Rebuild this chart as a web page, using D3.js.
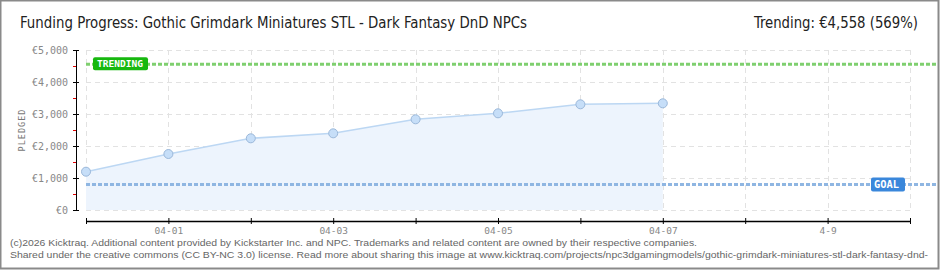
<!DOCTYPE html>
<head>
    <script src="https://d3js.org/d3.v7.js"></script>
    <style>
        body{ margin: 0; background: #fff; }
        svg{ display: block; }
        .tick text{ fill: #888; font-family: 'DejaVu Sans Mono', monospace; }
    </style>
</head>
<html>
    <body>
        <div class="graph"></div>
        <script>
            // values
            const dates = ['2026-03-31','2026-04-01','2026-04-02','2026-04-03','2026-04-04','2026-04-05','2026-04-06','2026-04-07']
            const pledged = [1197, 1750, 2240, 2396, 2834, 3021, 3303, 3334]
            const axisDays = ['2026-03-31','2026-04-01','2026-04-02','2026-04-03','2026-04-04','2026-04-05','2026-04-06','2026-04-07','2026-04-08','2026-04-09','2026-04-10']
            const axisLabels = ['', '04-01', '', '04-03', '', '04-05', '', '04-07', '', '4-9', '']
            const yTicks = [0, 1000, 2000, 3000, 4000, 5000]
            const yMinor = [500, 1500, 2500, 3500, 4500]
            const goal = 800
            const trending = 4558

            const w = 940
            const h = 270
            const parse = d3.timeParse('%Y-%m-%d')
            const data = dates.map((d, i) => ({date: parse(d), value: pledged[i]}))
            const days = axisDays.map(parse)

            const xScale = d3.scaleTime()
                .domain([days[0], days[days.length - 1]])
                .range([86, 910])
            const yScale = d3.scaleLinear()
                .domain([0, 5000])
                .range([210, 50])

            const svg = d3.select('.graph')
                .append('svg')
                .attr('width', w)
                .attr('height', h)

            // frame
            svg.append('rect')
                .attr('x', 0.5).attr('y', 0.5)
                .attr('width', w - 2).attr('height', h - 2)
                .attr('fill', '#fff')
                .attr('stroke', '#8a8a8a')
                .attr('stroke-width', 2)

            // title
            svg.append('text')
                .attr('x', 20).attr('y', 28)
                .attr('font-family', 'DejaVu Sans Condensed')
                .attr('font-size', 15)
                .attr('fill', '#222')
                .attr('textLength', 507)
                .attr('lengthAdjust', 'spacingAndGlyphs')
                .text('Funding Progress: Gothic Grimdark Miniatures STL - Dark Fantasy DnD NPCs')

            svg.append('text')
                .attr('x', 918).attr('y', 28)
                .attr('text-anchor', 'end')
                .attr('font-family', 'DejaVu Sans Condensed')
                .attr('font-size', 15)
                .attr('fill', '#222')
                .attr('textLength', 164)
                .attr('lengthAdjust', 'spacingAndGlyphs')
                .text('Trending:  €4,558 (569%)')

            // grid
            svg.append('g')
                .selectAll('line')
                .data(yTicks)
                .enter()
                .append('line')
                .attr('x1', 86).attr('x2', 910)
                .attr('y1', d => yScale(d) + 0.5).attr('y2', d => yScale(d) + 0.5)
                .attr('stroke', '#e2e2e2')
                .attr('stroke-dasharray', '5,4')

            svg.append('g')
                .selectAll('line')
                .data(days)
                .enter()
                .append('line')
                .attr('x1', d => Math.round(xScale(d)) + 0.5).attr('x2', d => Math.round(xScale(d)) + 0.5)
                .attr('y1', 50).attr('y2', 210)
                .attr('stroke', '#e2e2e2')
                .attr('stroke-dasharray', '5,4')

            // area + line
            const area = d3.area()
                .x(d => xScale(d.date))
                .y0(yScale(0))
                .y1(d => yScale(d.value))
            svg.append('path')
                .datum(data)
                .attr('d', area)
                .attr('fill', '#edf4fd')

            const line = d3.line()
                .x(d => xScale(d.date))
                .y(d => yScale(d.value))
            svg.append('path')
                .datum(data)
                .attr('d', line)
                .attr('fill', 'none')
                .attr('stroke', '#bcd7f3')
                .attr('stroke-width', 1.5)

            // goal & trending lines
            svg.append('line')
                .attr('x1', 86).attr('x2', 938)
                .attr('y1', yScale(goal)).attr('y2', yScale(goal))
                .attr('stroke', '#8fb6e2')
                .attr('stroke-width', 3)
                .attr('stroke-dasharray', '4,2')

            svg.append('line')
                .attr('x1', 86).attr('x2', 938)
                .attr('y1', yScale(trending)).attr('y2', yScale(trending))
                .attr('stroke', '#7fcf6f')
                .attr('stroke-width', 3)
                .attr('stroke-dasharray', '4,2')

            svg.selectAll('circle')
                .data(data)
                .enter()
                .append('circle')
                .attr('cx', d => xScale(d.date))
                .attr('cy', d => yScale(d.value))
                .attr('r', 4.5)
                .attr('fill', '#c6def8')
                .attr('stroke', '#9bb8da')
                .attr('stroke-width', 1)

            // labels on the trending & goal lines
            const tagT = svg.append('g').attr('transform', 'translate(93,' + (yScale(trending) - 7) + ')')
            tagT.append('rect')
                .attr('width', 55).attr('height', 13).attr('rx', 2)
                .attr('fill', '#17b80f')
            tagT.append('text')
                .attr('x', 4).attr('y', 10)
                .attr('font-family', 'DejaVu Sans Mono')
                .attr('font-weight', 'bold')
                .attr('font-size', 9.5)
                .attr('fill', '#fff')
                .attr('textLength', 46)
                .attr('lengthAdjust', 'spacingAndGlyphs')
                .text('TRENDING')

            const tagG = svg.append('g').attr('transform', 'translate(871,' + (yScale(goal) - 7) + ')')
            tagG.append('rect')
                .attr('width', 34).attr('height', 14).attr('rx', 2)
                .attr('fill', '#3a87db')
            tagG.append('text')
                .attr('x', 3).attr('y', 10.5)
                .attr('font-family', 'DejaVu Sans Mono')
                .attr('font-weight', 'bold')
                .attr('font-size', 10)
                .attr('fill', '#fff')
                .attr('textLength', 25)
                .attr('lengthAdjust', 'spacingAndGlyphs')
                .text('GOAL')

            // y axis
            const yAxis = d3.axisLeft(yScale)
                .tickValues(yTicks)
                .tickSize(6)
                .tickPadding(4)
                .tickFormat(d => '€' + d3.format(',')(d))
            const gy = svg.append('g')
                .attr('transform', 'translate(79,0)')
                .call(yAxis)
            gy.select('.domain').remove()
            gy.selectAll('.tick line').attr('stroke', '#000')
            gy.selectAll('.tick text')
                .attr('x', -11)
                .attr('font-size', 10)

            const yMinorAxis = d3.axisLeft(yScale)
                .tickValues(yMinor)
                .tickSize(3)
                .tickFormat('')
            const gym = svg.append('g')
                .attr('transform', 'translate(76,0)')
                .call(yMinorAxis)
            gym.select('.domain').remove()
            gym.selectAll('.tick line').attr('stroke', '#e00000')

            svg.append('line')
                .attr('x1', 76.5).attr('x2', 76.5)
                .attr('y1', 50).attr('y2', 211)
                .attr('stroke', '#000')

            svg.append('text')
                .attr('transform', 'translate(25,130) rotate(-90)')
                .attr('text-anchor', 'middle')
                .attr('font-family', 'DejaVu Sans Mono')
                .attr('font-size', 8.5)
                .attr('letter-spacing', 1)
                .attr('fill', '#777')
                .text('PLEDGED')

            // x axis
            const xAxis = d3.axisBottom(xScale)
                .tickValues(days)
                .tickSize(6)
                .tickPadding(3)
                .tickFormat((d, i) => axisLabels[i])
            const gx = svg.append('g')
                .attr('transform', 'translate(0,218)')
                .call(xAxis)
            gx.select('.domain').remove()
            gx.selectAll('.tick line').attr('stroke', '#000')
            gx.selectAll('.tick text').attr('font-size', 9.5)

            svg.append('line')
                .attr('x1', 86).attr('x2', 911)
                .attr('y1', 221.5).attr('y2', 221.5)
                .attr('stroke', '#000')
                .attr('stroke-width', 1.5)

            // footer
            svg.append('text')
                .attr('x', 10).attr('y', 246)
                .attr('font-family', 'Liberation Sans')
                .attr('font-size', 9.5)
                .attr('fill', '#666')
                .attr('textLength', 687)
                .attr('lengthAdjust', 'spacingAndGlyphs')
                .text('(c)2026 Kicktraq. Additional content provided by Kickstarter Inc. and NPC. Trademarks and related content are owned by their respective companies.')

            svg.append('text')
                .attr('x', 10).attr('y', 258)
                .attr('font-family', 'Liberation Sans')
                .attr('font-size', 9.5)
                .attr('fill', '#666')
                .attr('textLength', 918)
                .attr('lengthAdjust', 'spacingAndGlyphs')
                .text('Shared under the creative commons (CC BY-NC 3.0) license. Read more about sharing this image at www.kicktraq.com/projects/npc3dgamingmodels/gothic-grimdark-miniatures-stl-dark-fantasy-dnd-')
        </script>
    </body>
</html>
